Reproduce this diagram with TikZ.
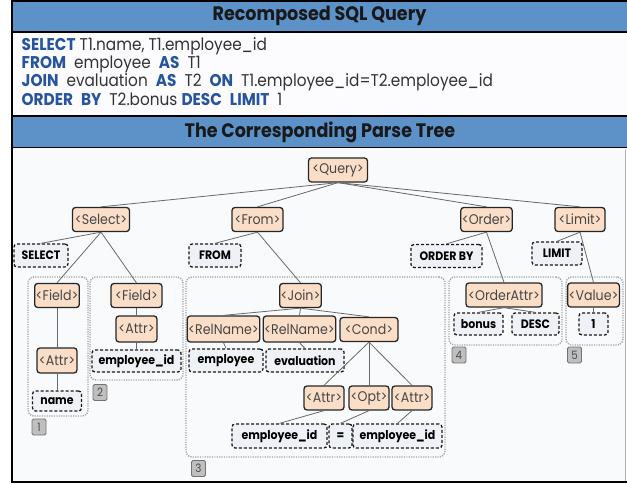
\documentclass[tikz,border=0pt]{standalone}
\usepackage{fontspec}
\setmainfont{Poppins}[FakeStretch=0.9]
\definecolor{hdrblue}{RGB}{92,146,200}
\definecolor{kwblue}{RGB}{38,84,158}
\definecolor{peach}{RGB}{250,222,200}
\definecolor{termfill}{RGB}{238,242,246}
\definecolor{treebg}{RGB}{249,250,252}
\definecolor{sqlbg}{RGB}{252,252,254}
\definecolor{edgegray}{RGB}{105,105,105}
\definecolor{grpgray}{RGB}{165,165,165}
\definecolor{ntext}{RGB}{70,70,70}
\newcommand\sqlkw[1]{{\bfseries\color{kwblue}#1}}
\newcommand\sqlgap{\hspace{8pt}}
\begin{document}
\begin{tikzpicture}[x=1pt,y=-1pt,
  hdr/.style={font=\bfseries\fontsize{19.5}{22}\selectfont, text=black!90},
  sqlline/.style={anchor=base west, inner sep=0pt, font=\fontsize{17}{19}\selectfont, text=black!80},
  nt/.style={draw=black!85, line width=1.3pt, fill=peach, rounded corners=3pt,
    inner xsep=1pt, inner ysep=0pt, minimum height=24pt, text=ntext,
    font=\fontsize{14}{16}\selectfont},
  term/.style={draw=black!90, line width=1.3pt, dash pattern=on 3pt off 2pt,
    fill=termfill, rounded corners=3pt, inner xsep=1pt, inner ysep=0pt,
    minimum height=22pt, font=\bfseries\fontsize{12.2}{14}\selectfont},
  grp/.style={draw=grpgray, line width=1.4pt, dash pattern=on 1.2pt off 1.2pt,
    rounded corners=6pt, inner sep=0pt},
  numlab/.style={draw=black!55, fill=black!25, line width=0.8pt, rounded corners=1.5pt,
    minimum width=14pt, minimum height=16pt, inner sep=0pt, text=black!70,
    font=\fontsize{11.5}{12}\selectfont},
  edge/.style={draw=edgegray, line width=0.8pt}]
\useasboundingbox (0,0) rectangle (627,484);

% panel backgrounds and frame
\fill[treebg] (11,148) rectangle (627,482);
\fill[sqlbg] (11,32) rectangle (627,116);
\fill[hdrblue] (11,0) rectangle (627,32);
\fill[hdrblue] (11,116) rectangle (627,147.5);
\draw[line width=1.6pt] (11,0.8) -- (627,0.8);
\draw[line width=1.6pt] (11,32) -- (627,32);
\draw[line width=1.6pt] (11,116) -- (627,116);
\draw[line width=1.6pt] (11,147.5) -- (627,147.5);
\draw[line width=2pt] (11.8,0) -- (11.8,482.5);
\draw[line width=2pt] (11,482) -- (627,482);
\draw[black!30, line width=0.6pt] (625,150) -- (625,481);

% titles
\node[hdr] (title1) at (319.5,16) {Recomposed SQL Query};
\node[hdr] (title2) at (320,132) {The Corresponding Parse Tree};

% SQL text
\node[sqlline] (sql1) at (21.5,51) {\sqlkw{SELECT} T1.name, T1.employee\_id};
\node[sqlline] (sql2) at (21.5,68.5) {\sqlkw{FROM}\sqlgap employee\sqlgap\sqlkw{AS}\sqlgap T1};
\node[sqlline] (sql3) at (21.5,87) {\sqlkw{JOIN}\sqlgap evaluation\sqlgap\sqlkw{AS}\sqlgap T2\sqlgap\sqlkw{ON}\sqlgap T1.employee\_id=T2.employee\_id};
\node[sqlline] (sql4) at (21.5,105.5) {\sqlkw{ORDER}\sqlgap\sqlkw{BY}\sqlgap T2.bonus \sqlkw{DESC}\sqlgap\sqlkw{LIMIT}\sqlgap 1};

% groups of the tree
\node[grp, minimum width=60pt, minimum height=139pt] (g1) at (58,346.5) {};
\node[grp, minimum width=93pt, minimum height=103pt] (g2) at (136.5,328.5) {};
\node[grp, minimum width=259pt, minimum height=180pt] (g3) at (315.5,367) {};
\node[grp, minimum width=113pt, minimum height=68pt] (g4) at (505.5,311) {};
\node[grp, minimum width=57pt, minimum height=68pt] (g5) at (594.5,311) {};
\node[numlab] (n1) at (39,427) {1};
\node[numlab] (n2) at (100,392.5) {2};
\node[numlab] (n3) at (198.5,468.5) {3};
\node[numlab] (n4) at (459,355) {4};
\node[numlab] (n5) at (574.5,355) {5};

% non-terminals
\node[nt, minimum width=59pt] (query) at (338,170) {<Query>};
\node[nt, minimum width=57pt] (select) at (101,219.5) {<Select>};
\node[nt, minimum width=51pt] (from) at (257.5,219.5) {<From>};
\node[nt, minimum width=51pt] (order) at (486.5,219.5) {<Order>};
\node[nt, minimum width=50pt] (limit) at (580,219.5) {<Limit>};
\node[nt, minimum width=44pt] (field1) at (57,295.5) {<Field>};
\node[nt, minimum width=40pt, minimum height=25pt] (attr1) at (57,360.5) {<Attr>};
\node[nt, minimum width=51pt] (field2) at (136.5,295.5) {<Field>};
\node[nt, minimum width=41pt, minimum height=26pt] (attr2) at (136.5,329) {<Attr>};
\node[nt, minimum width=39pt] (join) at (300.5,295.5) {<Join>};
\node[nt, minimum width=71pt, minimum height=26pt] (rel1) at (223.5,329) {<RelName>};
\node[nt, minimum width=71pt, minimum height=26pt] (rel2) at (299.5,329) {<RelName>};
\node[nt, minimum width=58pt] (cond) at (369,329.5) {<Cond>};
\node[nt, minimum width=40pt] (attrL) at (324,398) {<Attr>};
\node[nt, minimum width=40pt] (opt) at (369,398) {<Opt>};
\node[nt, minimum width=40pt] (attrR) at (412,398) {<Attr>};
\node[nt, minimum width=76pt] (oattr) at (504,295) {<OrderAttr>};
\node[nt, minimum width=51pt] (value) at (593.5,295) {<Value>};

% terminals
\node[term, minimum width=54pt, minimum height=23pt] (tselect) at (41,255.5) {SELECT};
\node[term, minimum width=52pt, minimum height=23pt] (tfrom) at (215,255.5) {FROM};
\node[term, minimum width=71pt, minimum height=23pt] (torder) at (446.5,256) {ORDER BY};
\node[term, minimum width=50pt, minimum height=23pt] (tlimit) at (557,253.5) {LIMIT};
\node[term, minimum width=49pt, minimum height=20pt] (tname) at (57,401) {name};
\node[term, minimum width=89pt] (tempid) at (136.5,361) {employee\_id};
\node[term, minimum width=74pt, minimum height=23pt] (temployee) at (226,360.5) {employee};
\node[term, minimum width=78pt, minimum height=23pt] (teval) at (305,360.5) {evaluation};
\node[term, minimum width=95pt, minimum height=24pt] (tempidL) at (279.5,436) {employee\_id};
\node[term, minimum width=23pt, minimum height=24pt] (teq) at (340.5,436) {=};
\node[term, minimum width=89pt, minimum height=24pt] (tempidR) at (397.5,436) {employee\_id};
\node[term, minimum width=49pt] (tbonus) at (478.5,324) {bonus};
\node[term, minimum width=47pt] (tdesc) at (535.5,324) {DESC};
\node[term, minimum width=29pt] (tone) at (593.5,324) {1};

% connectors
\foreach \a/\b in {query/select, query/from, query/order, query/limit,
  select/tselect, select/field1, select/field2,
  from/tfrom, from/join, order/torder, order/oattr, limit/tlimit, limit/value,
  field1/attr1, attr1/tname, field2/attr2, attr2/tempid,
  join/rel1, join/rel2, join/cond, rel1/temployee, rel2/teval,
  cond/attrL, cond/opt, cond/attrR, attrL/tempidL, opt/teq, attrR/tempidR,
  oattr/tbonus, oattr/tdesc, value/tone}
  \draw[edge] (\a.south) -- (\b.north);
\end{tikzpicture}
\end{document}
